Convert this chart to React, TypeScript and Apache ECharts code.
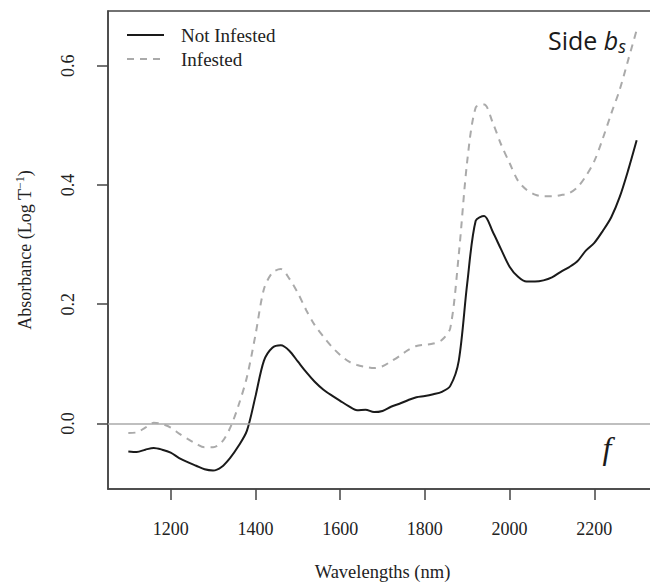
import React, { useEffect, useRef } from "react";
import * as echarts from "echarts";

const wavelengths = [
  1100, 1120, 1140, 1160, 1180, 1200, 1220, 1240, 1260, 1280, 1300, 1320, 1340, 1360, 1380,
  1400, 1420, 1440, 1460, 1480, 1500, 1520, 1540, 1560, 1580, 1600, 1620, 1640, 1660, 1680,
  1700, 1720, 1740, 1760, 1780, 1800, 1820, 1840, 1860, 1880, 1900, 1920, 1940, 1960, 1980,
  2000, 2020, 2040, 2060, 2080, 2100, 2120, 2140, 2160, 2180, 2200, 2220, 2240, 2260, 2280, 2300,
];

const notInfested = [
  -0.047, -0.048, -0.044, -0.041, -0.044, -0.049, -0.058, -0.065, -0.071, -0.077, -0.079, -0.073, -0.058, -0.038, -0.012,
  0.045, 0.105, 0.127, 0.131, 0.122, 0.104, 0.086, 0.07, 0.057, 0.047, 0.038, 0.029, 0.022, 0.023, 0.019,
  0.021, 0.028, 0.033, 0.039, 0.044, 0.046, 0.049, 0.053, 0.063, 0.105, 0.235, 0.34, 0.348, 0.322, 0.292,
  0.263, 0.246, 0.238, 0.238, 0.24, 0.245, 0.254, 0.262, 0.272, 0.29, 0.303, 0.323, 0.346, 0.38, 0.425, 0.475,
];

const infested = [
  -0.016, -0.015, -0.007, 0.001, -0.001, -0.007, -0.017, -0.026, -0.034, -0.04, -0.04, -0.032, -0.008, 0.03, 0.078,
  0.148, 0.225, 0.253, 0.259, 0.243, 0.219, 0.19, 0.165, 0.146, 0.129, 0.115, 0.104, 0.098, 0.095, 0.093,
  0.096, 0.104, 0.113, 0.123, 0.13, 0.132, 0.134, 0.14, 0.16, 0.283, 0.44, 0.53, 0.535, 0.505, 0.468,
  0.437, 0.407, 0.392, 0.384, 0.381, 0.381, 0.383, 0.386, 0.396, 0.415, 0.44, 0.478, 0.52, 0.56, 0.61, 0.66,
];

const xTicks = [1200, 1400, 1600, 1800, 2000, 2200];
const yTicks = [0, 0.2, 0.4, 0.6];

const SERIF = "'Liberation Serif', 'Times New Roman', serif";
const SANS = "'Open Sans', 'Noto Sans', sans-serif";

export default function App() {
  const ref = useRef<HTMLDivElement>(null);
  useEffect(() => {
    if (!ref.current) return;
    document.body.style.margin = "0";
    const chart = echarts.init(ref.current, undefined, { renderer: "svg" });
    const pair = (vals: number[]) => wavelengths.map((w, i) => [w, vals[i]]);
    chart.setOption({
      animation: false,
      backgroundColor: "#ffffff",
      grid: {
        left: 108,
        top: 11,
        right: -7,
        bottom: 95,
        outerBoundsMode: "none",
        containLabel: false,
        show: true,
        borderColor: "#444",
        borderWidth: 1.5,
        backgroundColor: "transparent",
      },
      legend: {
        orient: "vertical",
        left: 126,
        top: 25,
        padding: 0,
        itemWidth: 37,
        itemHeight: 12,
        itemGap: 4,
        itemStyle: { opacity: 0 },
        data: ["Not Infested", "Infested"],
        textStyle: {
          fontFamily: SERIF,
          fontSize: 19,
          color: "#222",
          lineHeight: 20,
          padding: [0, 0, 0, 12],
        },
      },
      xAxis: {
        type: "value",
        min: 1052,
        max: 2348,
        name: "Wavelengths (nm)",
        nameLocation: "middle",
        nameGap: 73,
        nameTextStyle: { fontFamily: SERIF, fontSize: 18.5, color: "#222" },
        axisLine: { show: true, onZero: false, lineStyle: { color: "#444", width: 1.5 } },
        axisTick: { show: true, length: 11, inside: false, customValues: xTicks, lineStyle: { color: "#444", width: 1.5 } },
        axisLabel: {
          customValues: xTicks,
          margin: 31,
          fontFamily: SERIF,
          fontSize: 18,
          color: "#222",
          formatter: (v: number) => String(v),
        },
        splitLine: { show: false },
      },
      yAxis: {
        type: "value",
        min: -0.11,
        max: 0.692,
        name: "Absorbance (Log T{sup|−1})",
        nameLocation: "middle",
        nameGap: 72,
        nameTextStyle: {
          fontFamily: SERIF,
          fontSize: 18,
          color: "#222",
          lineHeight: 22,
          rich: {
            sup: { fontFamily: SERIF, fontSize: 12, color: "#222", verticalAlign: "top", lineHeight: 12 },
          },
        },
        axisLine: { show: true, lineStyle: { color: "#444", width: 1.5 } },
        axisTick: { show: true, length: 11, inside: false, customValues: yTicks, lineStyle: { color: "#444", width: 1.5 } },
        axisLabel: {
          customValues: yTicks,
          rotate: 90,
          margin: 31,
          fontFamily: SERIF,
          fontSize: 18,
          color: "#222",
          formatter: (v: number) => v.toFixed(1),
        },
        splitLine: { show: false },
      },
      series: [
        {
          name: "Not Infested",
          type: "line",
          data: pair(notInfested),
          smooth: 0.3,
          showSymbol: false,
          symbol: "none",
          lineStyle: { color: "#1a1a1a", width: 2 },
          itemStyle: { color: "#1a1a1a" },
          z: 3,
          markLine: {
            silent: true,
            symbol: "none",
            label: { show: false },
            lineStyle: { color: "#aaaaaa", type: "solid", width: 1.5 },
            data: [{ yAxis: 0 }],
          },
        },
        {
          name: "Infested",
          type: "line",
          data: pair(infested),
          smooth: 0.3,
          showSymbol: false,
          symbol: "none",
          lineStyle: { color: "#aaaaaa", width: 2, type: [7, 6] },
          itemStyle: { color: "#aaaaaa" },
          z: 2,
        },
      ],
      graphic: [
        {
          type: "text",
          x: 548,
          y: 40,
          z: 10,
          style: {
            text: "Side {b|b}{s|s}",
            fontFamily: SANS,
            fontSize: 25,
            fill: "#1a1a1a",
            align: "left",
            verticalAlign: "middle",
            lineHeight: 30,
            rich: {
              b: { fontFamily: SANS, fontSize: 25, fontStyle: "italic", fill: "#1a1a1a", lineHeight: 30 },
              s: { fontFamily: SANS, fontSize: 18, fontStyle: "italic", fill: "#1a1a1a", lineHeight: 16, verticalAlign: "bottom" },
            },
          },
        },
        {
          type: "text",
          x: 607,
          y: 448,
          z: 10,
          style: {
            text: "f",
            fontFamily: SERIF,
            fontStyle: "italic",
            fontSize: 32,
            fill: "#1a1a1a",
            align: "center",
            verticalAlign: "middle",
          },
        },
      ],
    });
    return () => chart.dispose();
  }, []);
  return <div ref={ref} style={{ width: 650, height: 584 }} />;
}
